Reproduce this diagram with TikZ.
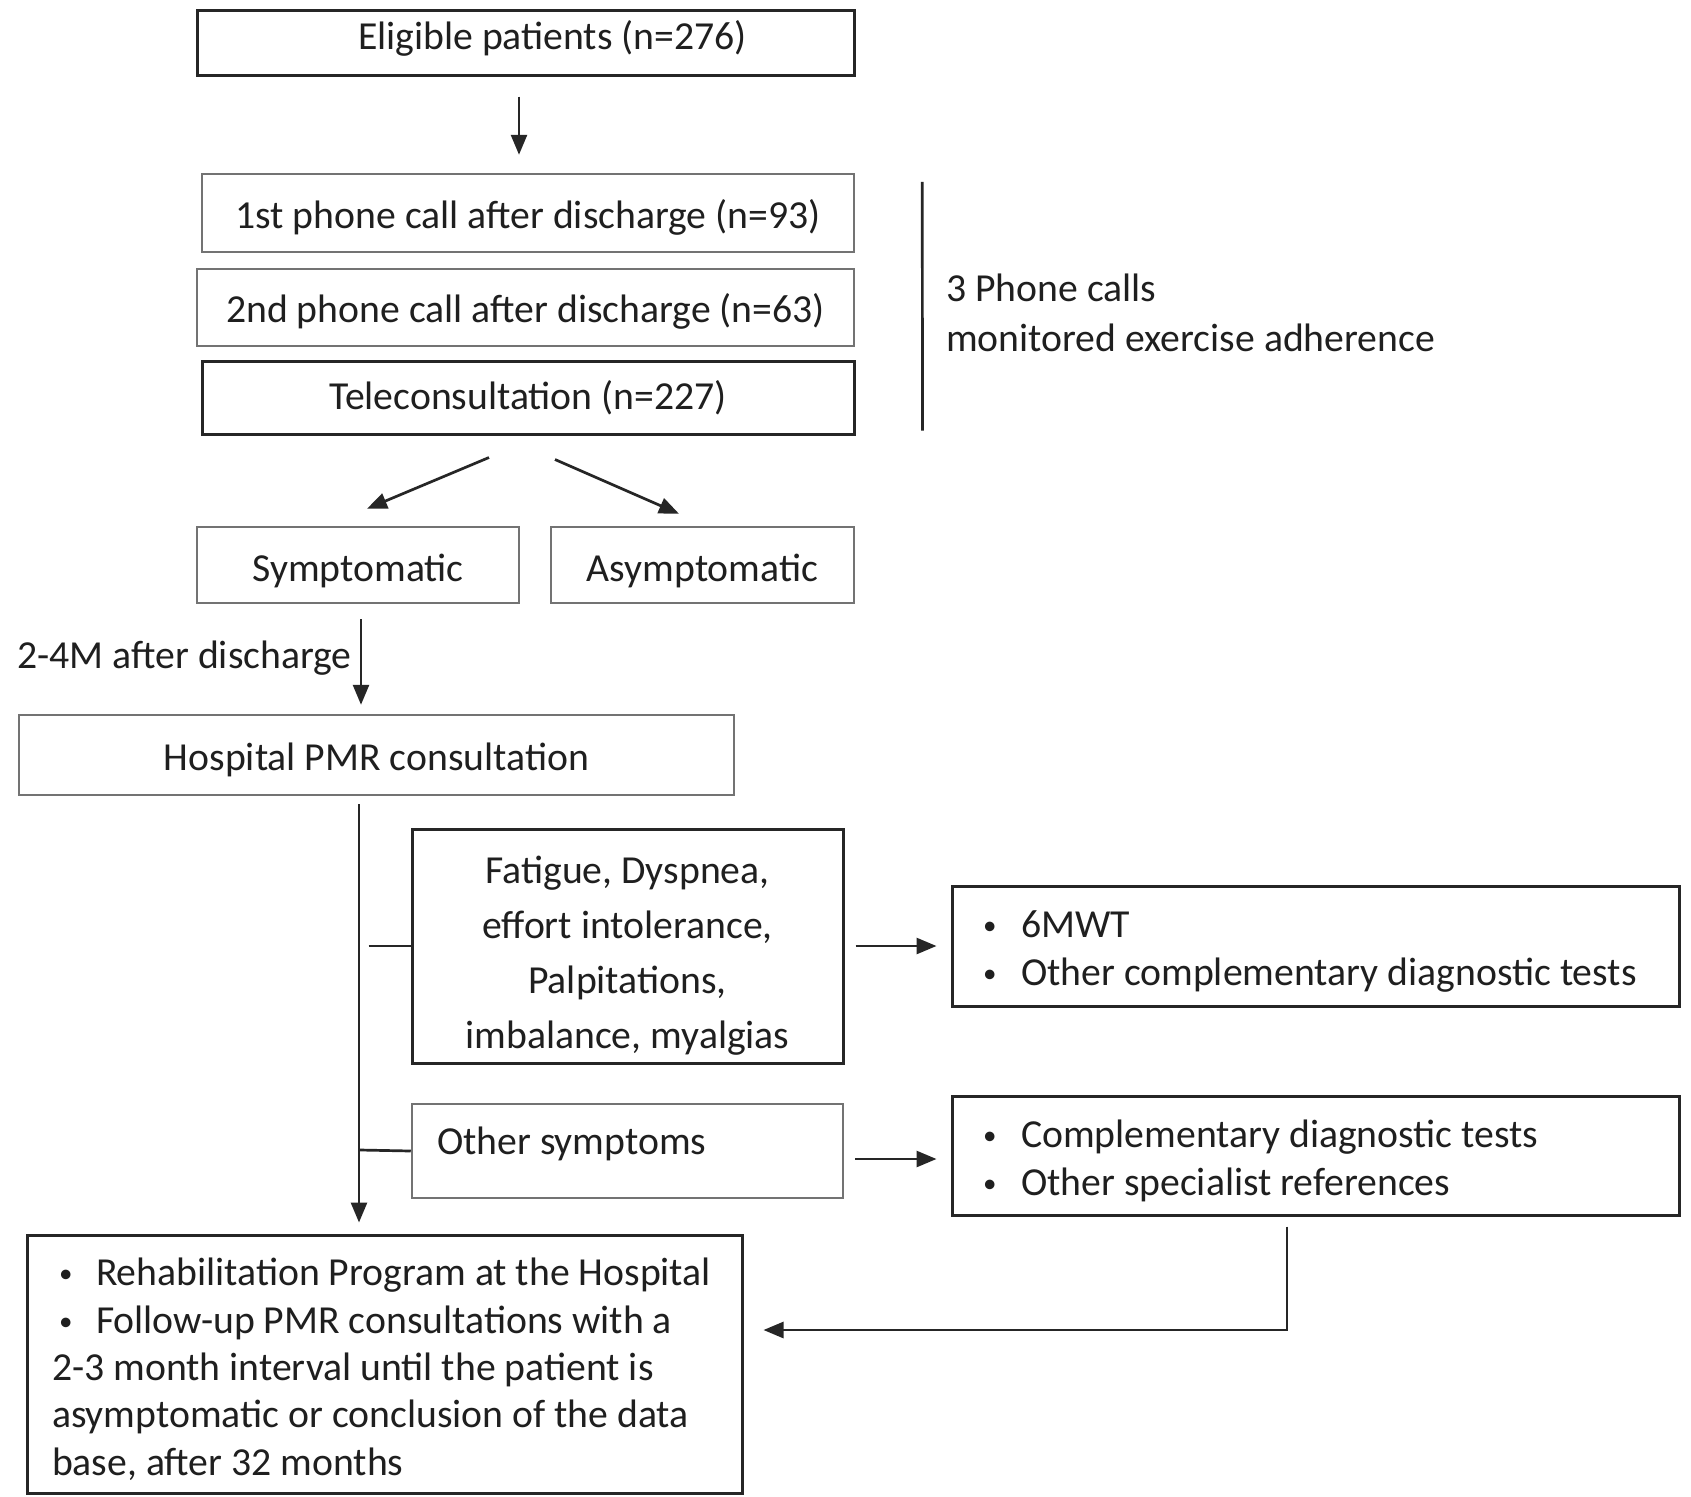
\documentclass[tikz,border=0pt]{standalone}
\usepackage{fontspec}
\setmainfont{Carlito}
\usetikzlibrary{arrows.meta}
\newcommand\mybul[1]{\makebox[#1][l]{\raisebox{3pt}{\fontsize{27}{27}\selectfont •}}}
\newcommand\tdown[1]{\rule{0pt}{#1pt}}
\begin{document}
\begin{tikzpicture}[x=1pt,y=-1pt,
  every node/.style={font=\fontsize{39.7}{47}\selectfont, text=black!88},
  darkbox/.style={draw=black!85, line width=3pt, inner sep=0pt, align=center},
  lightbox/.style={draw=black!55, line width=2.5pt, inner sep=0pt, align=center},
  conn/.style={draw=black!85, line width=2.7pt},
  arr/.style={conn, -{Triangle[length=20pt,width=16pt]}},
]
\useasboundingbox (0,0) rectangle (1691,1496);
\fill[white] (0,0) rectangle (1691,1496);

% boxes
\node[darkbox, minimum width=657pt, minimum height=64pt] (elig) at (525.5,43) {\hspace*{54pt}\rule[-16pt]{0pt}{16pt}Eligible patients (n=276)};
\node[lightbox, minimum width=652pt, minimum height=78pt] (p1) at (528,213) {\tdown{38}1st phone call after discharge (n=93)};
\node[lightbox, minimum width=657pt, minimum height=77pt] (p2) at (525.5,307.5) {\tdown{36}2nd phone call after discharge (n=63)};
\node[darkbox, minimum width=652pt, minimum height=73pt] (tele) at (528,397.5) {\tdown{30}Teleconsultation (n=227)};
\node[lightbox, minimum width=322pt, minimum height=76pt] (sym) at (358,565) {\tdown{39}Symptomatic};
\node[lightbox, minimum width=303pt, minimum height=76pt] (asym) at (702.5,565) {\tdown{39}Asymptomatic};
\node[lightbox, minimum width=715pt, minimum height=80pt] (pmr) at (376.5,755) {\tdown{38}Hospital PMR consultation};
\node[darkbox, minimum width=431pt, minimum height=234pt, font=\fontsize{39.7}{55}\selectfont] (fat) at (627.5,946)
  {\tdown{47}Fatigue, Dyspnea,\\effort intolerance,\\Palpitations,\\imbalance, myalgias};
\node[darkbox, minimum width=727pt, minimum height=120pt, inner xsep=31pt, text width=665pt, align=flush left, font=\fontsize{39.7}{48}\selectfont] (six) at (1315.5,946)
  {\tdown{38}\mybul{38pt}6MWT\\\mybul{38pt}Other complementary diagnostic tests};
\node[lightbox, minimum width=431pt, inner xsep=25pt, text width=381pt, align=flush left, text height=50pt, text depth=44pt] (oth) at (627.5,1151)
  {Other symptoms};
\node[darkbox, minimum width=727pt, minimum height=119pt, inner xsep=31pt, text width=665pt, align=flush left, font=\fontsize{39.7}{48}\selectfont] (comp) at (1315.5,1155.5)
  {\tdown{38}\mybul{38pt}Complementary diagnostic tests\\\mybul{38pt}Other specialist references};
\node[darkbox, minimum width=715pt, minimum height=258pt, inner xsep=25pt, text width=665pt, align=flush left, font=\fontsize{39.7}{47.4}\selectfont] (rehab) at (384.5,1364)
  {\tdown{38}\hspace*{7pt}\mybul{37pt}Rehabilitation Program at the Hospital\\
   \hspace*{7pt}\mybul{37pt}Follow-up PMR consultations with a\\
   2-3 month interval until the patient is\\
   asymptomatic or conclusion of the data\\
   base, after 32 months};

% bracket for phone calls
\draw[conn] ([xshift=67pt,yshift=-9pt]p1.north east) coordinate (bt) -- ([xshift=67pt,yshift=5pt]tele.south east) coordinate (bb);
\node[anchor=west, align=left, inner sep=0pt, font=\fontsize{39.7}{50}\selectfont] (brk) at (946,313) {3 Phone calls\\monitored exercise adherence};

% connectors
\draw[arr] ([xshift=-6.5pt,yshift=-20pt]elig.south) -- ([xshift=-9pt,yshift=18pt]p1.north);
\draw[arr] ([xshift=-39pt,yshift=-22pt]tele.south) -- ([xshift=9pt,yshift=17pt]sym.north);
\draw[arr] ([xshift=27pt,yshift=-24pt]tele.south) -- ([xshift=-23.5pt,yshift=12pt]asym.north);
\draw[arr] ([xshift=3pt,yshift=-15pt]sym.south) -- node[pos=0.39, anchor=east, inner sep=8pt] (lbl) {\tdown{38}2-4M after discharge} ([xshift=-15.5pt,yshift=9pt]pmr.north);
\draw[arr] ([xshift=-17.5pt,yshift=-8pt]pmr.south) -- ([xshift=-25.5pt,yshift=11pt]rehab.north);
\draw[conn] ([xshift=-42pt]fat.west) -- (fat.west);
\draw[conn] ([xshift=-51pt,yshift=1pt]oth.west) -- (oth.west);
\draw[arr] ([xshift=11pt]fat.east) -- ([xshift=-14pt]six.west);
\draw[arr] ([xshift=11pt,yshift=-8pt]oth.east) -- ([xshift=-14pt,yshift=-3.5pt]comp.west);
\draw[arr] ([xshift=-28.5pt,yshift=-10pt]comp.south) |- ([xshift=20pt,yshift=34pt]rehab.east);
\end{tikzpicture}
\end{document}
